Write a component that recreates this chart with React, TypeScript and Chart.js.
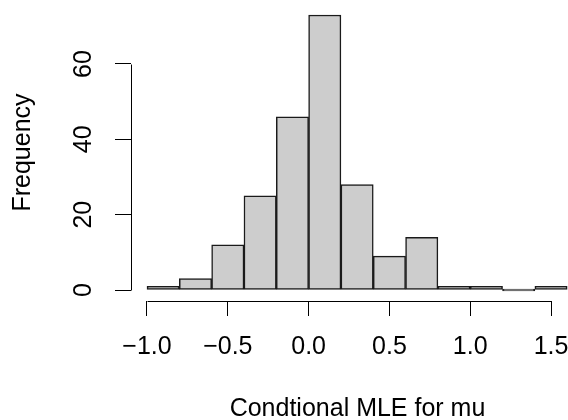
import React, { useEffect, useRef } from "react";
import { Chart, registerables } from "chart.js";

Chart.register(...registerables);

// Histogram bin edges and counts
const breaks = [-1.0, -0.8, -0.6, -0.4, -0.2, 0.0, 0.2, 0.4, 0.6, 0.8, 1.0, 1.2, 1.4, 1.6];
const counts = [1, 3, 12, 25, 46, 73, 28, 9, 14, 1, 1, 0, 1];
const xTicks = [-1.0, -0.5, 0.0, 0.5, 1.0, 1.5];
const yTicks = [0, 20, 40, 60];
const xTitle = "Condtional MLE for mu";
const yTitle = "Frequency";

const FONT = "'Liberation Sans', Arial, Helvetica, sans-serif";
const FS = 25;

function zeroPadding(s: any) {
  s.paddingTop = 0;
  s.paddingBottom = 0;
  s.paddingLeft = 0;
  s.paddingRight = 0;
}

export default function App() {
  const ref = useRef<HTMLCanvasElement | null>(null);

  useEffect(() => {
    const canvas = ref.current;
    if (!canvas) return;

    const points = counts.map((c, i) => ({ x: (breaks[i] + breaks[i + 1]) / 2, y: c }));

    const rAxes = {
      id: "rAxes",
      afterDraw(chart: any) {
        const { ctx, chartArea } = chart;
        const xs = chart.scales.x;
        const ys = chart.scales.y;
        ctx.save();
        ctx.strokeStyle = "#000";
        ctx.lineWidth = 1;
        ctx.beginPath();
        const by = Math.round(chartArea.bottom) + 0.5;
        ctx.moveTo(Math.round(xs.getPixelForValue(xTicks[0])) + 0.5, by);
        ctx.lineTo(Math.round(xs.getPixelForValue(xTicks[xTicks.length - 1])) + 0.5, by);
        const lx = Math.round(chartArea.left) + 0.5;
        ctx.moveTo(lx, Math.round(ys.getPixelForValue(yTicks[0])) + 0.5);
        ctx.lineTo(lx, Math.round(ys.getPixelForValue(yTicks[yTicks.length - 1])) + 0.5);
        ctx.stroke();
        ctx.restore();
      },
    };

    const chart = new Chart(canvas, {
      type: "bar",
      data: {
        datasets: [
          {
            data: points,
            backgroundColor: "#cdcdcd",
            borderColor: "#1a1a1a",
            borderWidth: 1.5,
            borderSkipped: false,
            barPercentage: 1,
            categoryPercentage: 1,
            minBarLength: 2,
          },
        ],
      },
      options: {
        animation: false,
        responsive: false,
        layout: { padding: { top: 4, right: 0, bottom: 0, left: 0 } },
        plugins: { legend: { display: false }, tooltip: { enabled: false } },
        scales: {
          x: {
            type: "linear",
            offset: false,
            min: -1.099,
            max: 1.704,
            border: { display: false },
            grid: { offset: false, drawOnChartArea: false, drawTicks: true, tickLength: 15, color: "#000", lineWidth: 1 },
            afterBuildTicks: (s: any) => {
              s.ticks = xTicks.map((v) => ({ value: v }));
            },
            afterFit: (s: any) => {
              s.height = 119;
              zeroPadding(s);
            },
            ticks: {
              color: "#000",
              font: { family: FONT, size: FS },
              padding: 16,
              maxRotation: 0,
              minRotation: 0,
              autoSkip: false,
              callback: (v: any) => {
                const n = Number(v);
                const s = Math.abs(n).toFixed(1);
                return n < 0 ? "\u2212" + s : s;
              },
            },
            title: {
              display: true,
              text: xTitle,
              color: "#000",
              font: { family: FONT, size: FS, lineHeight: 1 },
              padding: { top: 0, bottom: -2 },
            },
          },
          y: {
            type: "linear",
            min: -2.92,
            max: 75.92,
            border: { display: false },
            grid: { drawOnChartArea: false, drawTicks: true, tickLength: 16, color: "#000", lineWidth: 1 },
            afterBuildTicks: (s: any) => {
              s.ticks = yTicks.map((v) => ({ value: v }));
            },
            afterFit: (s: any) => {
              s.width = 131;
              zeroPadding(s);
            },
            ticks: {
              color: "#000",
              font: { family: FONT, size: FS },
              padding: 17,
              minRotation: 90,
              maxRotation: 90,
              crossAlign: "center",
              autoSkip: false,
            },
            title: {
              display: true,
              text: yTitle,
              color: "#000",
              font: { family: FONT, size: FS, lineHeight: 1 },
              padding: { top: 10.5, bottom: 0 },
            },
          },
        },
      },
      plugins: [rAxes],
    } as any);

    return () => chart.destroy();
  }, []);

  return (
    <div style={{ position: "fixed", left: 0, top: 0, width: 568, height: 420, overflow: "hidden", background: "#fff" }}>
      <canvas ref={ref} width={584} height={420} style={{ display: "block", width: 584, height: 420 }} />
    </div>
  );
}
